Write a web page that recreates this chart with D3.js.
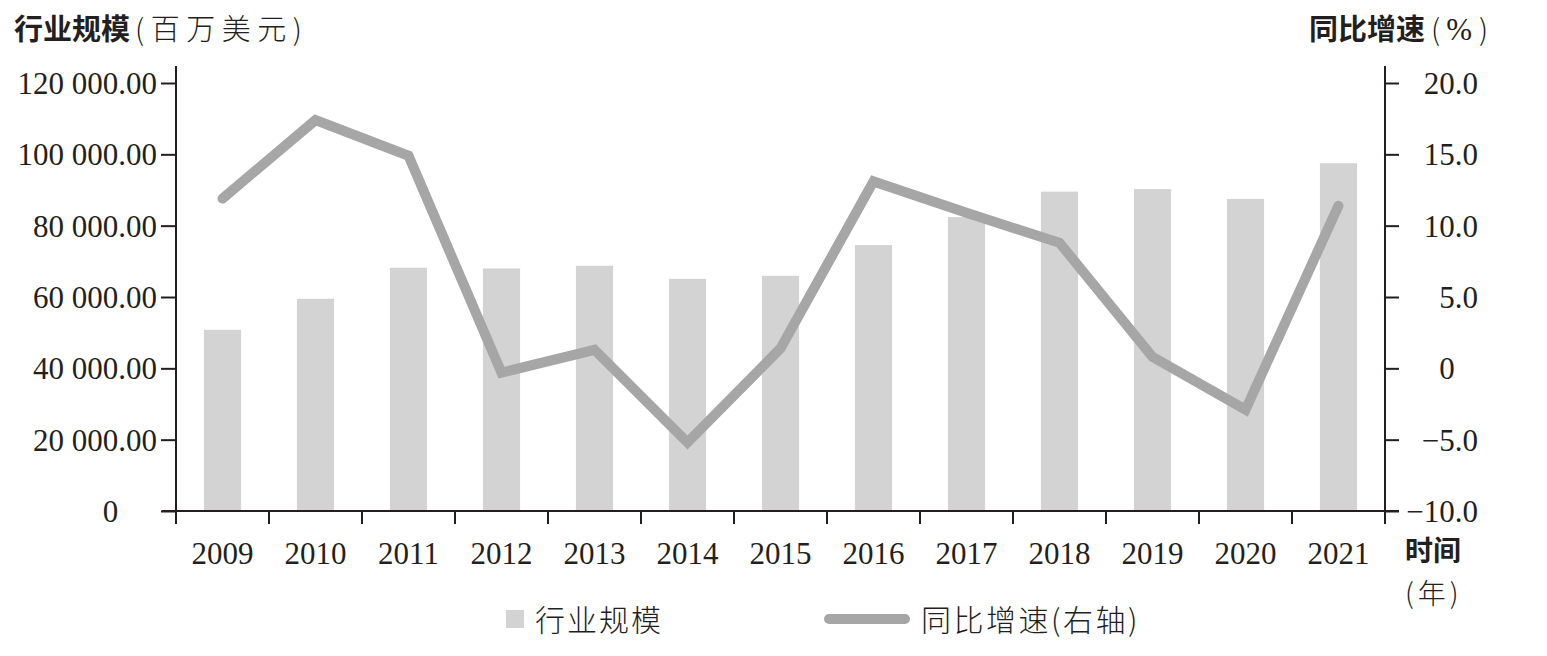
<!DOCTYPE html>
<html>
<head>
<meta charset="utf-8">
<script src="https://cdn.jsdelivr.net/npm/d3@7"></script>
<style>
  html, body { margin: 0; padding: 0; background: #fff; }
  svg { display: block; }
  .num { font-family: "Liberation Serif", "DejaVu Serif", serif; font-size: 31px; fill: #231f20; }
  .cjk { font-family: "Noto Sans CJK SC", sans-serif; fill: #231f20; }
</style>
</head>
<body>
<svg id="chart" width="1547" height="656"></svg>
<script>
// ---- data ----
const years = ["2009","2010","2011","2012","2013","2014","2015","2016","2017","2018","2019","2020","2021"];
const scale = [50800, 59500, 68200, 68000, 68750, 65100, 65950, 74550, 82400, 89550, 90250, 87500, 97500];
const growth = [11.9, 17.4, 14.9, -0.3, 1.3, -5.2, 1.4, 13.1, 10.9, 8.8, 0.8, -2.9, 11.4];
const leftTicks = [0, 20000, 40000, 60000, 80000, 100000, 120000];
const leftTickLabels = ["0", "20 000.00", "40 000.00", "60 000.00", "80 000.00", "100 000.00", "120 000.00"];
const rightTicks = [-10, -5, 0, 5, 10, 15, 20];
const rightTickLabels = ["\u221210.0", "\u22125.0", "0", "5.0", "10.0", "15.0", "20.0"];
const seriesNames = ["行业规模", "同比增速"];

// ---- layout ----
const ink = "#231f20";
const barColor = "#d3d3d3";
const lineColor = "#a7a6a7";
const plotL = 176, plotR = 1385, plotT = 83, plotB = 511;

const svg = d3.select("#chart");

const x = d3.scaleBand().domain(years).range([plotL, plotR]).paddingInner(0.6).paddingOuter(0.3);
const yL = d3.scaleLinear().domain([0, 120000]).range([plotB, plotT]);
const yR = d3.scaleLinear().domain([-10, 20]).range([plotB, plotT]);
const cx = d => x(d) + x.bandwidth() / 2;

// bars
svg.append("g").selectAll("rect").data(years).join("rect")
  .attr("x", d => x(d))
  .attr("width", x.bandwidth())
  .attr("y", (d, i) => yL(scale[i]))
  .attr("height", (d, i) => yL(0) - yL(scale[i]))
  .attr("fill", barColor);

// axis lines (extend above top tick)
const axisTop = plotT - 17;
svg.append("line").attr("x1", plotL).attr("x2", plotL).attr("y1", axisTop).attr("y2", plotB + 13)
  .attr("stroke", ink).attr("stroke-width", 2);
svg.append("line").attr("x1", plotR).attr("x2", plotR).attr("y1", axisTop).attr("y2", plotB + 13)
  .attr("stroke", ink).attr("stroke-width", 2);

// left axis
const gL = svg.append("g").attr("transform", `translate(${plotL},0)`)
  .call(d3.axisLeft(yL).tickValues(leftTicks).tickSize(15).tickSizeOuter(0).tickPadding(4)
    .tickFormat((d, i) => leftTickLabels[i]));
gL.select(".domain").remove();
gL.selectAll(".tick line").attr("stroke", ink).attr("stroke-width", 2);
gL.selectAll(".tick text").attr("class", "num").attr("fill", ink).attr("font-size", null).attr("font-family", null)
  .attr("dy", "0.34em");
gL.selectAll(".tick text").filter(function() { return this.textContent === "0"; })
  .attr("dx", -1.25 * 31);

// right axis
const gR = svg.append("g").attr("transform", `translate(${plotR},0)`)
  .call(d3.axisRight(yR).tickValues(rightTicks).tickSize(14).tickSizeOuter(0).tickPadding(4)
    .tickFormat((d, i) => rightTickLabels[i]));
gR.select(".domain").remove();
gR.selectAll(".tick line").attr("stroke", ink).attr("stroke-width", 2);
gR.selectAll(".tick text").attr("class", "num").attr("fill", ink).attr("font-size", null).attr("font-family", null)
  .attr("x", 93).attr("text-anchor", "end").attr("dy", "0.34em");
gR.selectAll(".tick text").filter(function() { return this.textContent === "0"; })
  .attr("dx", -0.75 * 31);

// bottom axis: baseline + boundary ticks
svg.append("line").attr("x1", plotL - 14).attr("x2", plotR + 14).attr("y1", plotB).attr("y2", plotB)
  .attr("stroke", ink).attr("stroke-width", 2);
const boundaries = years.map(d => cx(d) - x.step() / 2).concat([cx(years[years.length - 1]) + x.step() / 2]);
svg.append("g").selectAll("line").data(boundaries).join("line")
  .attr("x1", d => d).attr("x2", d => d).attr("y1", plotB).attr("y2", plotB + 13)
  .attr("stroke", ink).attr("stroke-width", 2);
const gB = svg.append("g").attr("transform", `translate(0,${plotB})`)
  .call(d3.axisBottom(x).tickSize(0).tickPadding(0));
gB.select(".domain").remove();
gB.selectAll(".tick text").attr("class", "num").attr("fill", ink).attr("font-size", null).attr("font-family", null)
  .attr("y", 53).attr("dy", null);

// line
const line = d3.line().x((d, i) => cx(years[i])).y(d => yR(d));
svg.append("path").datum(growth)
  .attr("d", line)
  .attr("fill", "none")
  .attr("stroke", lineColor)
  .attr("stroke-width", 10)
  .attr("stroke-linejoin", "miter")
  .attr("stroke-linecap", "round");

// titles
const t1 = svg.append("text").attr("class", "cjk").attr("x", 14).attr("y", 40).attr("font-size", 29);
t1.append("tspan").attr("font-weight", "bold").text("行业规模");
t1.append("tspan").attr("font-weight", 300).attr("dx", 5).attr("letter-spacing", 6.5).text("(百万美元)");

const t2 = svg.append("text").attr("class", "cjk").attr("x", 1309).attr("y", 40).attr("font-size", 29);
t2.append("tspan").attr("font-weight", "bold").text("同比增速");
t2.append("tspan").attr("font-weight", 300).attr("dx", 6).attr("letter-spacing", 6).text("(");
t2.append("tspan").attr("font-family", "Liberation Serif").attr("font-size", 31).attr("letter-spacing", 7).text("%");
t2.append("tspan").attr("font-weight", 300).text(")");

svg.append("text").attr("class", "cjk").attr("x", 1405).attr("y", 561).attr("font-size", 28)
  .attr("font-weight", "bold").text("时间");
svg.append("text").attr("class", "cjk").attr("x", 1405).attr("y", 604).attr("font-size", 28)
  .attr("font-weight", 300).attr("letter-spacing", 4).text("(年)");

// legend
const lg = svg.append("g");
lg.append("rect").attr("x", 506).attr("y", 610).attr("width", 18).attr("height", 18).attr("fill", barColor);
lg.append("text").attr("class", "cjk").attr("x", 535).attr("y", 631).attr("font-size", 30)
  .attr("font-weight", 300).attr("letter-spacing", 2).text(seriesNames[0]);
lg.append("line").attr("x1", 829).attr("x2", 905).attr("y1", 619).attr("y2", 619)
  .attr("stroke", lineColor).attr("stroke-width", 10).attr("stroke-linecap", "round");
lg.append("text").attr("class", "cjk").attr("x", 921).attr("y", 631).attr("font-size", 30)
  .attr("font-weight", 300).attr("letter-spacing", 2.5).text(seriesNames[1] + "(右轴)");
</script>
</body>
</html>
